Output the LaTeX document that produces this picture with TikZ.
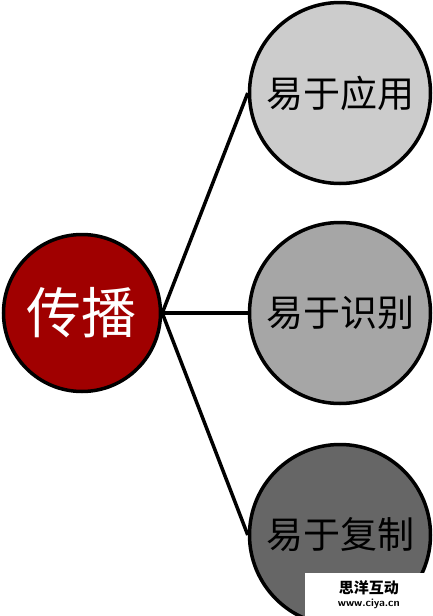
\documentclass[tikz,border=0pt]{standalone}
\usepackage{fontspec}
\newfontfamily\cjk{Noto Sans CJK SC}
\usepackage{tikz}
\usetikzlibrary{positioning, calc}
\usepackage{xcolor}
\definecolor{hubred}{HTML}{A00000}
\definecolor{leafA}{HTML}{CCCCCC}
\definecolor{leafB}{HTML}{A6A6A6}
\definecolor{leafC}{HTML}{666666}

\begin{document}
\begin{tikzpicture}[
  x=1pt, y=-1pt,
  hub/.style={
    circle, draw=black, line width=3.5pt, fill=hubred,
    minimum size=157pt, inner sep=0pt,
    text=white, font=\cjk\fontsize{55}{60}\selectfont
  },
  leaf/.style={
    circle, draw=black, line width=3.5pt,
    minimum size=181pt, inner sep=0pt,
    text=black, font=\cjk\fontsize{37}{40}\selectfont
  },
  link/.style={line width=3.5pt, draw=black},
  markbox/.style={
    rectangle, fill=white, inner sep=0pt, align=center,
    minimum width=128pt, minimum height=43pt
  }
]
\useasboundingbox (0,0) rectangle (433,616);

% Leaf circles
\node[leaf, fill=leafA] (apply) at (340,93) {易于应用};
\node[leaf, fill=leafB] (spot) at (340,313) {易于识别};
\node[leaf, fill=leafC] (copy) at (340,535) {易于复制};

% Center circle
\node[hub] (spread) at (82,313) {传播};

% Connectors
\draw[link] (spread.east) -- (apply.west);
\draw[link] (spread.east) -- (spot.west);
\draw[link] (spread.east) -- (copy.west);

% Watermark
\node[markbox, anchor=south east] (stamp) at (433,616)
  {{\cjk\bfseries\fontsize{15}{17}\selectfont 思洋互动}\\[1pt]
   {\sffamily\bfseries\fontsize{11}{12}\selectfont www.ciya.cn}};

\end{tikzpicture}
\end{document}
